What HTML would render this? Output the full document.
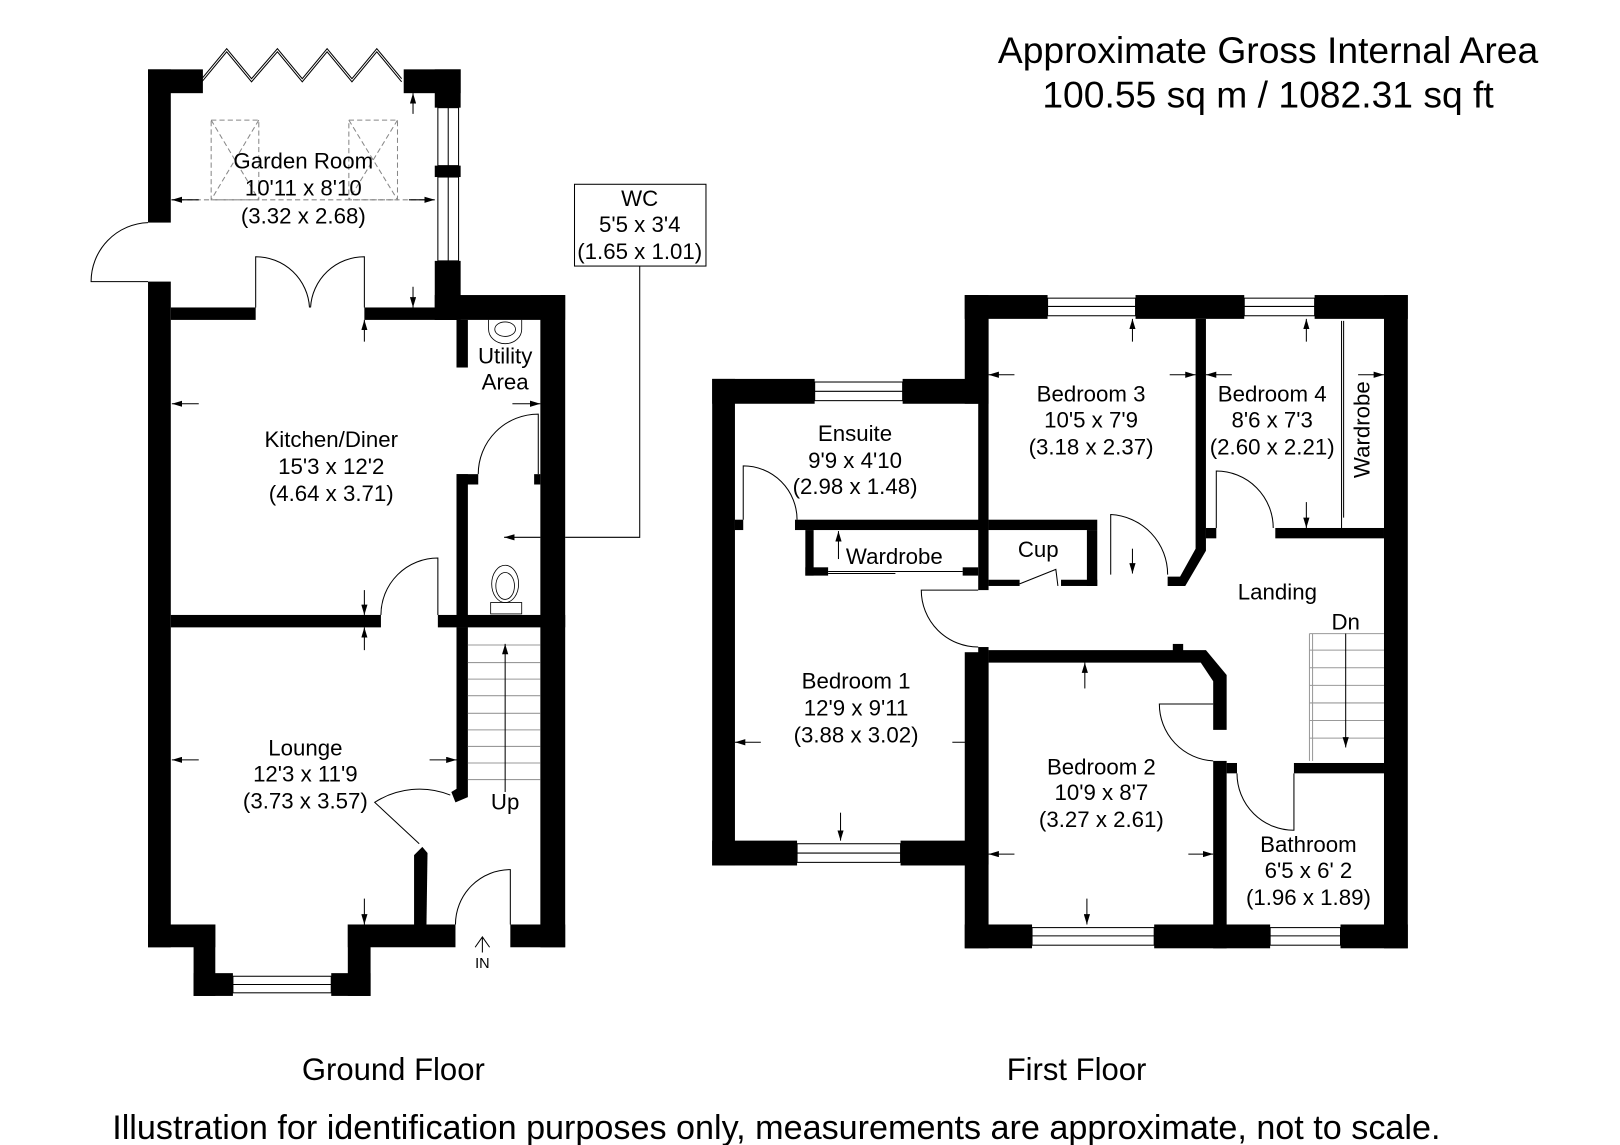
<!DOCTYPE html>
<html><head><meta charset="utf-8"><style>
html,body{margin:0;padding:0;background:#fff;width:1620px;height:1145px;overflow:hidden}
svg{display:block}
text{font-family:"Liberation Sans",Arial,sans-serif;fill:#000}
</style></head><body>
<svg width="1620" height="1145" viewBox="0 0 1565 1106" preserveAspectRatio="none" xmlns="http://www.w3.org/2000/svg">
<defs>
<marker id="a" viewBox="0 0 10 6" refX="10" refY="3" markerWidth="10" markerHeight="6" orient="auto" markerUnits="userSpaceOnUse"><path d="M0,0L10,3L0,6z" fill="#000"/></marker>
</defs>
<rect width="1565" height="1106" fill="#fff"/>
<g fill="#000">
<rect x="143" y="67" width="22" height="148"/>
<rect x="143" y="272" width="22" height="643"/>
<rect x="143" y="67" width="53" height="23"/>
<rect x="390" y="67" width="55" height="23"/>
<rect x="420" y="67" width="25" height="37"/>
<rect x="420" y="160" width="25" height="11"/>
<rect x="420" y="252" width="25" height="57"/>
<rect x="165" y="297" width="82" height="12"/>
<rect x="352" y="297" width="90" height="12"/>
<rect x="420" y="285" width="126" height="24"/>
<rect x="522" y="285" width="24" height="630"/>
<rect x="441" y="309" width="11" height="46"/>
<rect x="441" y="458" width="11" height="148"/>
<rect x="441" y="458" width="21" height="10"/>
<rect x="516" y="458" width="6" height="10"/>
<rect x="165" y="594" width="203" height="12"/>
<rect x="423" y="594" width="123" height="12"/>
<polygon points="441,606 452,606 452,770 440,775 436,765 441,762"/>
<polygon points="400,893 400,826 408,818 413,824 412,893"/>
<rect x="143" y="893" width="65" height="22"/>
<rect x="187" y="893" width="21" height="69"/>
<rect x="187" y="940" width="38" height="22"/>
<rect x="320" y="940" width="38" height="22"/>
<rect x="336" y="893" width="22" height="69"/>
<rect x="336" y="893" width="104" height="22"/>
<rect x="493" y="893" width="53" height="22"/>
<rect x="688" y="366" width="99" height="24"/>
<rect x="872" y="366" width="73" height="24"/>
<rect x="688" y="366" width="22" height="470"/>
<rect x="688" y="812" width="82" height="24"/>
<rect x="870" y="812" width="75" height="24"/>
<rect x="932" y="285" width="80" height="23"/>
<rect x="1097" y="285" width="105" height="23"/>
<rect x="1270" y="285" width="90" height="23"/>
<rect x="932" y="285" width="23" height="105"/>
<rect x="932" y="630" width="23" height="286"/>
<rect x="945" y="308" width="10" height="262"/>
<rect x="945" y="625" width="10" height="210"/>
<rect x="1337" y="285" width="23" height="631"/>
<rect x="932" y="893" width="65" height="23"/>
<rect x="1115" y="893" width="112" height="23"/>
<rect x="1295" y="893" width="65" height="23"/>
<rect x="710" y="502" width="8" height="10"/>
<rect x="768" y="502" width="187" height="10"/>
<rect x="778" y="512" width="8" height="44"/>
<rect x="778" y="548" width="22" height="8"/>
<rect x="930" y="548" width="15" height="8"/>
<rect x="955" y="502" width="105" height="10"/>
<rect x="1050" y="512" width="10" height="54"/>
<rect x="955" y="560" width="30" height="6"/>
<rect x="1025" y="560" width="35" height="6"/>
<polygon points="1155,308 1165,308 1165,532 1145,566 1128,566 1128,557 1140,557 1155,530"/>
<rect x="1165" y="510" width="10" height="10"/>
<rect x="1232" y="510" width="105" height="10"/>
<polygon points="955,628 1165,628 1185,652 1185,705 1172,705 1172,658 1160,640 955,640"/>
<rect x="1133" y="622" width="10" height="8"/>
<rect x="1172" y="735" width="13" height="181"/>
<rect x="1185" y="737" width="10" height="10"/>
<rect x="1250" y="737" width="87" height="10"/>
</g>
<g fill="none" stroke="#000" stroke-width="1">
<polyline points="195,79 219,50 243,79 268,50 292,79 316,50 340,79 364,50 388,79"/>
<polyline points="195,76 219,47 243,76 268,47 292,76 316,47 340,76 364,47 388,76"/>
<rect x="423" y="104" width="20" height="56"/><line x1="433" y1="104" x2="433" y2="160"/>
<rect x="423" y="171" width="20" height="81"/><line x1="433" y1="171" x2="433" y2="252"/>
<path d="M143,215 A57,57 0 0 0 88,272 L143,272"/>
<path d="M247,297 L247,248 A52,52 0 0 1 299,297"/>
<path d="M352,297 L352,248 A52,52 0 0 0 300,297"/>
<g stroke="#888" stroke-dasharray="5,3"><rect x="204" y="116" width="46" height="77"/><rect x="337" y="116" width="47" height="77"/>
<line x1="204" y1="116" x2="250" y2="193"/><line x1="250" y1="116" x2="204" y2="193"/>
<line x1="337" y1="116" x2="384" y2="193"/><line x1="384" y1="116" x2="337" y2="193"/>
<line x1="165" y1="193" x2="420" y2="193"/></g>
<path d="M462,458 A58,58 0 0 1 520,400 L520,458"/>
<path d="M368,594 A55,55 0 0 1 423,539 L423,594"/>
<path d="M435,768 A80,80 0 0 0 362,775 L405,815"/>
<path d="M440,893 A53,53 0 0 1 493,840 L493,893"/>
<rect x="225" y="943" width="95" height="16"/><line x1="225" y1="951" x2="320" y2="951"/>
<g stroke="#999"><line x1="452" y1="623" x2="522" y2="623"/><line x1="452" y1="640" x2="522" y2="640"/><line x1="452" y1="656" x2="522" y2="656"/><line x1="452" y1="672" x2="522" y2="672"/><line x1="452" y1="689" x2="522" y2="689"/><line x1="452" y1="705" x2="522" y2="705"/><line x1="452" y1="721" x2="522" y2="721"/><line x1="452" y1="737" x2="522" y2="737"/><line x1="452" y1="753" x2="522" y2="753"/></g>
<line x1="488" y1="765" x2="488" y2="622" marker-end="url(#a)"/>
<path d="M459,915 L466,905 L473,915 M466,905 L466,920"/>
<rect x="555" y="178" width="127" height="79"/>
<polyline points="618,257 618,519 546,519"/>
<line x1="522" y1="519" x2="487" y2="519" marker-end="url(#a)"/>
<line x1="192" y1="193" x2="166" y2="193" marker-end="url(#a)"/>
<line x1="395" y1="193" x2="420" y2="193" marker-end="url(#a)"/>
<line x1="399" y1="110" x2="399" y2="90" marker-end="url(#a)"/>
<line x1="399" y1="277" x2="399" y2="297" marker-end="url(#a)"/>
<line x1="352" y1="330" x2="352" y2="309" marker-end="url(#a)"/>
<line x1="192" y1="390" x2="166" y2="390" marker-end="url(#a)"/>
<line x1="495" y1="390" x2="522" y2="390" marker-end="url(#a)"/>
<line x1="352" y1="570" x2="352" y2="594" marker-end="url(#a)"/>
<line x1="352" y1="628" x2="352" y2="606" marker-end="url(#a)"/>
<line x1="192" y1="734" x2="166" y2="734" marker-end="url(#a)"/>
<line x1="415" y1="734" x2="441" y2="734" marker-end="url(#a)"/>
<line x1="352" y1="868" x2="352" y2="893" marker-end="url(#a)"/>
<rect x="787" y="369" width="85" height="18"/><line x1="787" y1="378" x2="872" y2="378"/>
<rect x="770" y="815" width="100" height="18"/><line x1="770" y1="824" x2="870" y2="824"/>
<rect x="1012" y="288" width="85" height="17"/><line x1="1012" y1="296" x2="1097" y2="296"/>
<rect x="1202" y="288" width="68" height="17"/><line x1="1202" y1="296" x2="1270" y2="296"/>
<rect x="997" y="896" width="118" height="17"/><line x1="997" y1="904" x2="1115" y2="904"/>
<rect x="1227" y="896" width="68" height="17"/><line x1="1227" y1="904" x2="1295" y2="904"/>
<path d="M718,502 L718,450 A52,52 0 0 1 770,502"/>
<path d="M945,570 L890,570 A55,55 0 0 0 945,625"/>
<path d="M1073,555 L1073,497 A58,58 0 0 1 1128,555"/>
<path d="M1175,510 L1175,455 A55,55 0 0 1 1230,510"/>
<path d="M1172,680 L1120,680 A55,55 0 0 0 1172,735"/>
<path d="M1195,747 A55,55 0 0 0 1250,802 L1250,747"/>
<path d="M985,564 L1020,550 L1022,566"/>
<line x1="800" y1="552" x2="930" y2="552"/><line x1="800" y1="554" x2="865" y2="554"/>
<line x1="1296" y1="310" x2="1296" y2="510"/><line x1="1298" y1="310" x2="1298" y2="500"/>
<g stroke="#999"><line x1="1265" y1="612" x2="1265" y2="735"/><line x1="1268" y1="612" x2="1268" y2="735"/>
<line x1="1265" y1="628" x2="1337" y2="628"/><line x1="1265" y1="645" x2="1337" y2="645"/><line x1="1265" y1="662" x2="1337" y2="662"/><line x1="1265" y1="679" x2="1337" y2="679"/><line x1="1265" y1="696" x2="1337" y2="696"/><line x1="1265" y1="713" x2="1337" y2="713"/><line x1="1265" y1="612" x2="1337" y2="612"/></g>
<line x1="1300" y1="612" x2="1300" y2="722" marker-end="url(#a)"/>
<line x1="810" y1="540" x2="810" y2="513" marker-end="url(#a)"/>
<line x1="1094" y1="330" x2="1094" y2="308" marker-end="url(#a)"/>
<line x1="1262" y1="330" x2="1262" y2="308" marker-end="url(#a)"/>
<line x1="980" y1="362" x2="955" y2="362" marker-end="url(#a)"/>
<line x1="1130" y1="362" x2="1155" y2="362" marker-end="url(#a)"/>
<line x1="1190" y1="362" x2="1165" y2="362" marker-end="url(#a)"/>
<line x1="1312" y1="362" x2="1337" y2="362" marker-end="url(#a)"/>
<line x1="1094" y1="530" x2="1094" y2="554" marker-end="url(#a)"/>
<line x1="1262" y1="485" x2="1262" y2="510" marker-end="url(#a)"/>
<line x1="1048" y1="665" x2="1048" y2="640" marker-end="url(#a)"/>
<line x1="735" y1="717" x2="710" y2="717" marker-end="url(#a)"/>
<line x1="920" y1="717" x2="945" y2="717" marker-end="url(#a)"/>
<line x1="812" y1="785" x2="812" y2="812" marker-end="url(#a)"/>
<line x1="980" y1="825" x2="955" y2="825" marker-end="url(#a)"/>
<line x1="1148" y1="825" x2="1172" y2="825" marker-end="url(#a)"/>
<line x1="1050" y1="868" x2="1050" y2="893" marker-end="url(#a)"/>
</g>
<g fill="none" stroke="#000" stroke-width="0.8">
<path d="M472,309 L472,318 A16,14 0 0 0 504,318 L504,309"/><ellipse cx="488" cy="318" rx="10" ry="7"/>
<ellipse cx="488" cy="564" rx="13" ry="18"/><ellipse cx="488" cy="566" rx="9" ry="13"/><rect x="474" y="582" width="30" height="11"/>
</g>
<g font-size="21.5" text-anchor="middle">
<text x="293" y="163">Garden Room</text><text x="293" y="189">10'11 x 8'10</text><text x="293" y="216">(3.32 x 2.68)</text>
<text x="618" y="199">WC</text><text x="618" y="224">5'5 x 3'4</text><text x="618" y="250">(1.65 x 1.01)</text>
<text x="488" y="351">Utility</text><text x="488" y="376">Area</text>
<text x="320" y="432">Kitchen/Diner</text><text x="320" y="458">15'3 x 12'2</text><text x="320" y="484">(4.64 x 3.71)</text>
<text x="295" y="730">Lounge</text><text x="295" y="755">12'3 x 11'9</text><text x="295" y="781">(3.73 x 3.57)</text>
<text x="488" y="782">Up</text>
<text x="466" y="935" font-size="14">IN</text>
<text x="826" y="426">Ensuite</text><text x="826" y="452">9'9 x 4'10</text><text x="826" y="477">(2.98 x 1.48)</text>
<text x="864" y="545">Wardrobe</text>
<text x="1003" y="538">Cup</text>
<text x="1054" y="388">Bedroom 3</text><text x="1054" y="413">10'5 x 7'9</text><text x="1054" y="439">(3.18 x 2.37)</text>
<text x="1229" y="388">Bedroom 4</text><text x="1229" y="413">8'6 x 7'3</text><text x="1229" y="439">(2.60 x 2.21)</text>
<text x="1324" y="415" transform="rotate(-90 1324 415)" dy="-1">Wardrobe</text>
<text x="1234" y="579">Landing</text>
<text x="1300" y="608">Dn</text>
<text x="827" y="665">Bedroom 1</text><text x="827" y="691">12'9 x 9'11</text><text x="827" y="717">(3.88 x 3.02)</text>
<text x="1064" y="748">Bedroom 2</text><text x="1064" y="773">10'9 x 8'7</text><text x="1064" y="799">(3.27 x 2.61)</text>
<text x="1264" y="823">Bathroom</text><text x="1264" y="848">6'5 x 6' 2</text><text x="1264" y="874">(1.96 x 1.89)</text>
<text x="1225" y="61" font-size="36">Approximate Gross Internal Area</text>
<text x="1225" y="104" font-size="36">100.55 sq m / 1082.31 sq ft</text>
<text x="380" y="1043" font-size="30">Ground Floor</text>
<text x="1040" y="1043" font-size="30">First Floor</text>
<text x="750" y="1100" font-size="33">Illustration for identification purposes only, measurements are approximate, not to scale.</text>
</g>
</svg>
</body></html>
